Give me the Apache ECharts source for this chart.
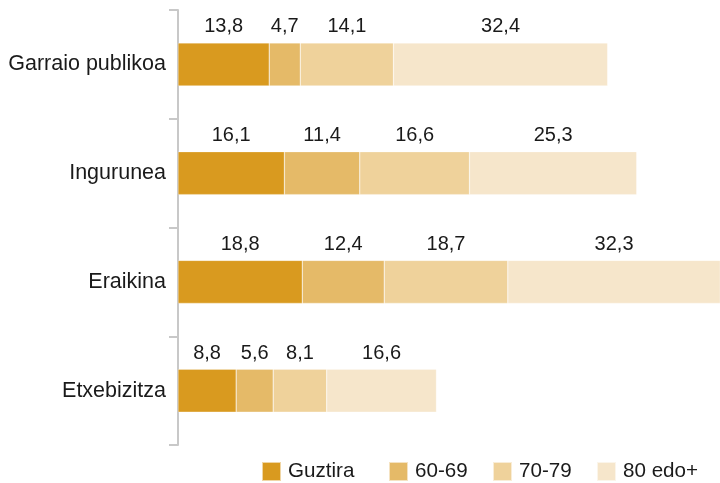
<!DOCTYPE html>
<html>
<head>
<meta charset="utf-8">
<script src="https://cdn.jsdelivr.net/npm/echarts@6/dist/echarts.min.js"></script>
<style>
html,body{margin:0;padding:0;background:#fff;}
#chart{width:720px;height:483px;}
</style>
</head>
<body>
<div id="chart"></div>
<script>
var categories = ['Garraio publikoa', 'Ingurunea', 'Eraikina', 'Etxebizitza'];
var seriesNames = ['Guztira', '60-69', '70-79', '80 edo+'];
var guztira = [13.8, 16.1, 18.8, 8.8];
var age6069 = [4.7, 11.4, 12.4, 5.6];
var age7079 = [14.1, 16.6, 18.7, 8.1];
var age80 = [32.4, 25.3, 32.3, 16.6];

var colors = ['#D99A1F', '#E5BA68', '#EFD29B', '#F6E6CB'];
var values = [guztira, age6069, age7079, age80];
var font = 'Liberation Sans, Arial, Helvetica, sans-serif';

var chart = echarts.init(document.getElementById('chart'));

var series = seriesNames.map(function (name, i) {
  return {
    name: name,
    type: 'bar',
    stack: 'total',
    barWidth: 43,
    data: values[i],
    itemStyle: { color: colors[i], borderColor: 'rgba(255,255,255,0.6)', borderWidth: 0.5 },
    label: {
      show: true,
      position: 'top',
      distance: 6,
      color: '#1a1a1a',
      fontFamily: font,
      fontSize: 20,
      formatter: function (p) { return p.value.toFixed(1).replace('.', ','); }
    },
    emphasis: { disabled: true }
  };
});

var legendLefts = [261, 388, 492, 596];
var legends = seriesNames.map(function (name, i) {
  return {
    data: [name],
    left: legendLefts[i],
    top: 461,
    padding: 0,
    itemWidth: 19,
    itemHeight: 19,
    icon: 'rect',
    textStyle: { fontFamily: font, fontSize: 20.6, color: '#1a1a1a', padding: [0, 0, 0, 2] }
  };
});

chart.setOption({
  animation: false,
  color: colors,
  legend: legends,
  grid: { left: 178, right: 0, top: 10, bottom: 38 },
  xAxis: {
    type: 'value',
    min: 0,
    max: 82,
    show: false
  },
  yAxis: {
    type: 'category',
    inverse: true,
    data: categories,
    axisLine: { show: true, lineStyle: { color: '#C8C8C8', width: 2 } },
    axisTick: { show: true, length: 9, lineStyle: { color: '#C8C8C8', width: 2 } },
    axisLabel: { margin: 12, color: '#1a1a1a', fontFamily: font, fontSize: 21.5 }
  },
  series: series
});
</script>
</body>
</html>
